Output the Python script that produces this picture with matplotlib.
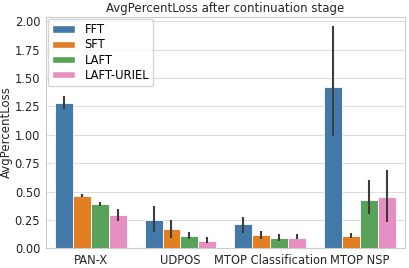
import numpy as np
import matplotlib
matplotlib.use("Agg")
import matplotlib.pyplot as plt
from matplotlib.patches import Patch

# ── Data ──────────────────────────────────────────────────────────────────────
tasks   = ["PAN-X", "UDPOS", "MTOP Classification", "MTOP NSP"]
methods = ["FFT", "SFT", "LAFT", "LAFT-URIEL"]

fft_mean = [1.276, 0.249, 0.217, 1.417]
fft_lo   = [1.224, 0.146, 0.138, 0.989]
fft_hi   = [1.343, 0.375, 0.276, 1.957]

sft_mean = [0.463, 0.170, 0.117, 0.108]
sft_lo   = [0.455, 0.093, 0.079, 0.091]
sft_hi   = [0.475, 0.249, 0.152, 0.137]

laft_mean = [0.390, 0.108, 0.093, 0.425]
laft_lo   = [0.372, 0.085, 0.064, 0.305]
laft_hi   = [0.407, 0.141, 0.129, 0.598]

uriel_mean = [0.293, 0.066, 0.095, 0.449]
uriel_lo   = [0.243, 0.050, 0.079, 0.229]
uriel_hi   = [0.346, 0.097, 0.123, 0.687]

colors = ["#4379a8", "#e17f22", "#58a25a", "#e78fc2"]

means = [fft_mean, sft_mean, laft_mean, uriel_mean]
los   = [fft_lo, sft_lo, laft_lo, uriel_lo]
his   = [fft_hi, sft_hi, laft_hi, uriel_hi]

# ── Plot ──────────────────────────────────────────────────────────────────────
fig = plt.figure(figsize=(4.09, 2.68), dpi=100)
ax = fig.add_axes([0.112, 0.0735, 0.878, 0.8645])

x = np.arange(len(tasks))
width = 0.2
for i, m in enumerate(methods):
    pos = x - 0.3 + i * width
    ax.bar(pos, means[i], width, color=colors[i], edgecolor="white",
           linewidth=0.6, zorder=2)
    ax.vlines(pos, los[i], his[i], color="#3d3d3d", linewidth=1.5, zorder=3)

ax.set_xlim(-0.5, 3.5)
ax.set_ylim(0, 2.04)
ax.set_yticks(np.arange(0, 2.01, 0.25))
ax.set_yticklabels([f"{v:.2f}" for v in np.arange(0, 2.01, 0.25)])
ax.set_xticks(x)
ax.set_xticklabels(tasks)
ax.tick_params(labelsize=8.3, length=0, pad=4, colors="#262626")
ax.set_ylabel("AvgPercentLoss", fontsize=8.5, color="#262626", labelpad=1)
ax.set_title("AvgPercentLoss after continuation stage", fontsize=8.5,
             color="#262626", pad=3)
ax.grid(True, axis="y", color="#dddddd", linewidth=0.8, zorder=0)
ax.set_axisbelow(True)
for s in ax.spines.values():
    s.set_color("#cccccc")
    s.set_linewidth(0.8)

handles = [Patch(facecolor=c, edgecolor="white", label=m)
           for c, m in zip(colors, methods)]
ax.legend(handles=handles, loc="upper left", fontsize=8.3, frameon=True,
          edgecolor="#cccccc", framealpha=0.8, borderaxespad=0.2,
          labelspacing=0.2, borderpad=0.35, handleheight=0.6)

plt.savefig("out.png", dpi=100)
